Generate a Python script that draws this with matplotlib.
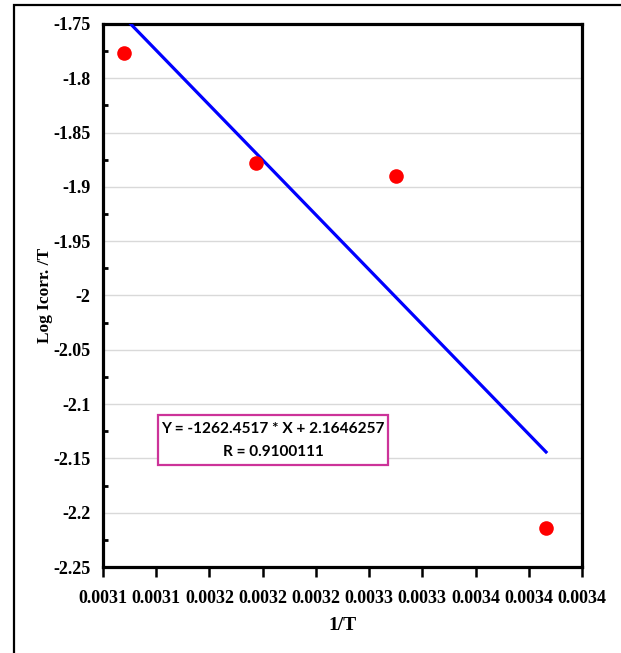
import matplotlib
matplotlib.use("Agg")
import matplotlib.pyplot as plt
from matplotlib.patches import Rectangle
from matplotlib.ticker import MultipleLocator, FixedLocator
import numpy as np

# Arrhenius-type plot: log(Icorr/T) against 1/T
temps = [323, 313, 303, 293]
inv_t = [1.0 / t for t in temps]
log_icorr_t = [-1.777, -1.878, -1.890, -2.214]

slope = -1262.4517
intercept = 2.1646257
r_value = 0.9100111

x_ticks = [0.00308, 0.00312, 0.00316, 0.00320, 0.00324, 0.00328, 0.00332, 0.00336, 0.00340, 0.00344]
x_ticklabels = [f"{v:.4f}" for v in [0.0031, 0.0031, 0.0032, 0.0032, 0.0032,
                                       0.0033, 0.0033, 0.0034, 0.0034, 0.0034]]
y_lim = (-2.25, -1.75)

SERIF = "Liberation Serif"

fig = plt.figure(figsize=(6.21, 6.53), dpi=100)
ax = fig.add_axes([103 / 621, 1 - 567 / 653, 479 / 621, 543 / 653])

# outer frame around the figure
fig.patches.append(Rectangle((14 / 621, -0.1), 1.2, 1.1 - 5 / 653,
                             transform=fig.transFigure, fill=False,
                             edgecolor="black", linewidth=1.6))

# fitted line from the reported equation
xs = np.array([inv_t[0], inv_t[-1]])
ax.plot(xs, slope * xs + intercept, color="#0000ff", linewidth=2.3, zorder=3)
ax.plot(inv_t, log_icorr_t, "o", color="#ff0000", markersize=10.5,
        markeredgewidth=0, zorder=4)

ax.set_xlim(x_ticks[0], x_ticks[-1])
ax.set_ylim(*y_lim)
ax.xaxis.set_major_locator(FixedLocator(x_ticks))
ax.set_xticklabels(x_ticklabels)
ax.yaxis.set_major_locator(MultipleLocator(0.05))
ax.yaxis.set_minor_locator(MultipleLocator(0.025))
ax.yaxis.set_major_formatter(matplotlib.ticker.FuncFormatter(lambda v, p: f"{v:g}"))

ax.grid(axis="y", color="#d9d9d9", linewidth=1.0)
ax.set_axisbelow(True)
for sp in ax.spines.values():
    sp.set_linewidth(2.3)
    sp.set_color("black")

ax.tick_params(axis="x", direction="out", length=7, width=1.8, pad=9.5)
ax.tick_params(axis="y", which="major", length=0, pad=9)
ax.tick_params(axis="y", which="minor", direction="in", length=3.5, width=2)
for lab in ax.get_xticklabels() + ax.get_yticklabels():
    lab.set_fontfamily(SERIF)
    lab.set_fontweight("bold")
    lab.set_fontsize(13)

ax.set_xlabel("1/T", fontfamily=SERIF, fontweight="bold", fontsize=14, labelpad=7)
ax.set_ylabel("Log Icorr. /T", fontfamily=SERIF, fontweight="bold", fontsize=12.5, labelpad=0)

# equation box
ax.add_patch(Rectangle((0.115, 0.188), 0.48, 0.092, transform=ax.transAxes,
                       fill=True, facecolor="white", edgecolor="#cc3399",
                       linewidth=1.6, zorder=5))
ax.text(0.355, 0.254, f"Y = {slope} * X + {intercept}", transform=ax.transAxes,
        ha="center", va="center", fontfamily="Lato", fontweight="bold",
        fontsize=11.1, zorder=6)
ax.text(0.355, 0.212, f"R = {r_value}", transform=ax.transAxes,
        ha="center", va="center", fontfamily="Lato", fontweight="bold",
        fontsize=11.1, zorder=6)

fig.savefig("out.png", dpi=100)
